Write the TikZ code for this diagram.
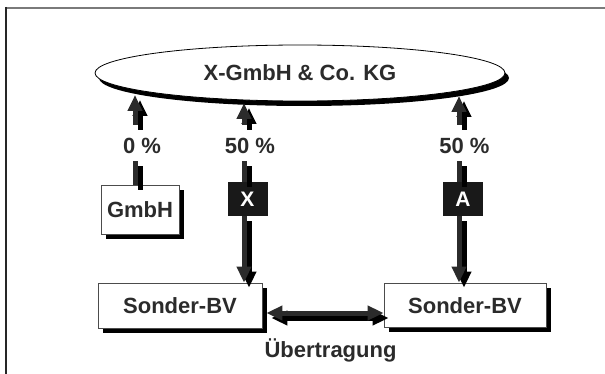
\documentclass[tikz,border=0pt]{standalone}
\usepackage{fontspec}
\setmainfont{Liberation Sans}
\usetikzlibrary{shapes.geometric,shadows,arrows.meta}
\definecolor{ink}{HTML}{2B2B2B}
\definecolor{framegray}{HTML}{7A7A7A}
% draws a connector twice: a black cast shadow, then the dark line on top
\newcommand\castline[2][]{%
  \begin{scope}[transform canvas={shift={(5pt,-5pt)}}]\draw[connshadow,#1] #2;\end{scope}%
  \draw[conn,#1] #2;}
\begin{document}
\begin{tikzpicture}[x=1pt,y=-1pt,
  txt/.style={font=\fontsize{22}{26}\selectfont\bfseries, text=ink},
  boxshadow/.style={drop shadow={shadow xshift=5pt,shadow yshift=-5pt,fill=black,opacity=1}},
  whitebox/.style={txt, draw=black!70, line width=0.8pt, fill=white, boxshadow,
    inner sep=0pt, text height=16pt, text depth=0pt},
  tagbox/.style={fill=black!90, text=white, font=\fontsize{21}{25}\selectfont\bfseries,
    minimum width=40pt, minimum height=34pt, inner sep=0pt, text height=15pt, text depth=0pt},
  pct/.style={txt, inner sep=0pt, minimum height=36pt, text height=21pt, text depth=0pt},
  conn/.style={draw=ink, line width=5pt},
  connshadow/.style={draw=black, line width=5pt},
  head/.style={-{Triangle[length=16pt,width=14pt]}},
  twoheads/.style={{Triangle[length=16pt,width=14pt]}-{Triangle[length=16pt,width=14pt]}},
]
\useasboundingbox (0,0) rectangle (605,374);

% frame
\draw[framegray, line width=2pt] (6,8) -- (605,8);
\draw[black!85, line width=2pt] (6,7) -- (6,374);

% company
\node[ellipse, txt, draw=black, line width=0.8pt, fill=white,
  drop shadow={shadow xshift=4pt,shadow yshift=-5pt,fill=black,opacity=1},
  minimum width=410pt, minimum height=56pt, inner sep=0pt,
  text height=16pt, text depth=0pt] (kg) at (300,73) {X-GmbH \& Co. KG};

% partners and special business assets
\node[whitebox, minimum width=78pt, minimum height=49pt] (gmbh) at (140,209.5) {GmbH};
\node[whitebox, minimum width=164pt, minimum height=45pt] (sbvL) at (180,305.5) {Sonder-BV};
\node[whitebox, minimum width=162pt, minimum height=44pt] (sbvR) at (465,305) {Sonder-BV};

\node[tagbox] (lx) at (247.5,199) {X};
\node[tagbox] (la) at (463,199) {A};

% shares
\node[pct] (p0) at (142,143) {0 \%};
\node[pct] (p50a) at (250,143) {50 \%};
\node[pct] (p50b) at (464.5,143) {50 \%};

\node[txt, anchor=base] (ueb) at (330.5,357) {Übertragung};

% connector columns and arrow tips at the ellipse
\coordinate (c1) at (135,0);
\coordinate (c2) at (244,0);
\coordinate (c3) at (459,0);
\coordinate (t1) at (135,95);
\coordinate (t2) at (244,103);
\coordinate (t3) at (459,96);
\coordinate (h) at (0,313);

\castline[head]{(c1 |- p0.north) -- (t1)}
\castline[head]{(c2 |- p50a.north) -- (t2)}
\castline[head]{(c3 |- p50b.north) -- (t3)}

\castline{(c1 |- p0.south) -- (c1 |- gmbh.north)}
\castline{(c2 |- p50a.south) -- (c2 |- lx.north)}
\castline{(c3 |- p50b.south) -- (c3 |- la.north)}

\castline[head]{(c2 |- lx.south) -- (c2 |- sbvL.north)}
\castline[head]{(c3 |- la.south) -- (c3 |- sbvR.north)}

\castline[twoheads, shorten <=4pt]{(sbvL.east |- h) -- (sbvR.west |- h)}
\end{tikzpicture}
\end{document}
